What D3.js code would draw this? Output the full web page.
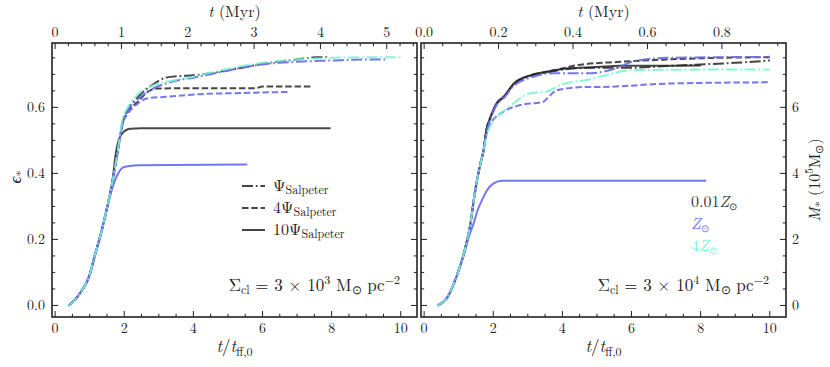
<!DOCTYPE html>
<html><head><meta charset="utf-8">
<script src="https://cdn.jsdelivr.net/npm/d3@7"></script>
<style>
body{margin:0;background:#fff;}
</style></head>
<body><svg id="c" width="830" height="367"></svg>
<script>
// ---------------- DATA ----------------
// x in t/t_ff,0 ; y in epsilon_*
const L_ddK_x=[0.4,0.7,1.0,1.15,1.35,1.5,1.65,1.8,1.95,2.1,2.4,2.8,3.2,3.6,4.0,4.7,5.4,6.0,7.0,7.6,7.95];
const L_ddK_y=[0,0.034,0.093,0.152,0.228,0.295,0.37,0.46,0.55,0.59,0.632,0.667,0.69,0.695,0.697,0.707,0.72,0.732,0.745,0.752,0.752];
const L_ddB_x=[0.4,0.7,1.0,1.15,1.35,1.5,1.65,1.8,1.95,2.1,2.4,2.8,3.2,3.6,4.0,4.7,5.4,6.0,7.0,8.0,9.0,9.6];
const L_ddB_y=[0,0.034,0.093,0.152,0.228,0.295,0.37,0.46,0.555,0.59,0.625,0.655,0.672,0.683,0.69,0.705,0.72,0.73,0.738,0.742,0.745,0.745];
const L_ddC_x=[0.4,0.7,1.0,1.15,1.35,1.5,1.65,1.8,1.95,2.1,2.4,2.8,3.2,3.6,4.0,4.7,5.4,6.0,7.0,8.0,9.0,10.0];
const L_ddC_y=[0,0.034,0.093,0.152,0.228,0.295,0.37,0.46,0.565,0.6,0.64,0.665,0.677,0.685,0.693,0.71,0.725,0.735,0.745,0.75,0.752,0.752];
const L_dsK_x=[0.4,0.7,1.0,1.15,1.35,1.5,1.65,1.8,1.95,2.1,2.4,2.65,2.95,4.0,5.8,6.0,7.42];
const L_dsK_y=[0,0.034,0.093,0.152,0.228,0.295,0.37,0.46,0.553,0.585,0.618,0.645,0.657,0.658,0.658,0.663,0.663];
const L_dsB_x=[0.4,0.7,1.0,1.15,1.35,1.5,1.65,1.8,1.95,2.1,2.4,2.65,3.2,4.2,5.6,6.79];
const L_dsB_y=[0,0.034,0.093,0.152,0.228,0.295,0.37,0.46,0.55,0.58,0.612,0.627,0.632,0.64,0.644,0.647];
const L_soK_x=[0.4,0.7,1.0,1.15,1.35,1.5,1.65,1.77,1.93,2.17,2.5,7.97];
const L_soK_y=[0,0.034,0.093,0.152,0.228,0.295,0.37,0.47,0.52,0.535,0.537,0.537];
const L_soB_x=[0.4,0.7,1.0,1.15,1.3,1.45,1.64,1.8,1.9,2.02,2.4,5.56];
const L_soB_y=[0,0.034,0.093,0.15,0.205,0.27,0.35,0.395,0.412,0.42,0.425,0.427];

const R_soB_x=[0.4,0.71,0.95,1.15,1.3,1.43,1.55,1.72,1.82,2.01,2.25,8.16];
const R_soB_y=[0,0.031,0.09,0.152,0.21,0.248,0.289,0.329,0.349,0.37,0.378,0.378];
const R_soK_x=[0.4,0.71,0.95,1.15,1.34,1.48,1.63,1.72,1.8,1.92,2.11,2.3,2.59,3.07,3.55,4.13,5.0,5.68,6.5,8.0];
const R_soK_y=[0,0.031,0.092,0.158,0.248,0.349,0.43,0.47,0.53,0.571,0.615,0.632,0.672,0.697,0.708,0.718,0.722,0.726,0.726,0.727];
const R_ddK_x=[0.4,0.71,0.95,1.15,1.34,1.48,1.63,1.72,1.8,1.92,2.11,2.3,2.59,3.07,3.55,4.13,5.0,6.0,7.0,8.0,9.0,10.0];
const R_ddK_y=[0,0.031,0.092,0.158,0.248,0.349,0.43,0.47,0.53,0.568,0.612,0.63,0.67,0.695,0.706,0.716,0.72,0.72,0.725,0.73,0.735,0.742];
const R_dsK_x=[0.4,0.71,0.95,1.15,1.34,1.48,1.63,1.72,1.8,1.92,2.11,2.3,2.59,3.07,3.55,4.0,4.42,5.68,7.0,8.5,10.0];
const R_dsK_y=[0,0.031,0.092,0.158,0.248,0.349,0.43,0.47,0.53,0.568,0.612,0.63,0.67,0.697,0.708,0.718,0.728,0.738,0.745,0.75,0.752];
const R_ddB_x=[0.4,0.71,0.95,1.15,1.34,1.48,1.63,1.72,1.8,1.92,2.11,2.3,2.59,3.07,3.75,4.71,5.39,6.1,7.0,10.0];
const R_ddB_y=[0,0.031,0.092,0.158,0.248,0.349,0.43,0.47,0.52,0.565,0.61,0.628,0.665,0.69,0.703,0.703,0.713,0.74,0.75,0.753];
const R_ddC_x=[0.4,0.71,0.95,1.15,1.34,1.48,1.63,1.72,1.8,1.92,2.11,2.5,3.07,3.55,3.94,4.71,5.28,6.05,10.0];
const R_ddC_y=[0,0.031,0.092,0.158,0.248,0.349,0.43,0.47,0.51,0.545,0.571,0.605,0.643,0.648,0.668,0.683,0.698,0.713,0.715];
const R_dsB_x=[0.4,0.71,0.95,1.15,1.34,1.48,1.63,1.72,1.8,1.92,2.3,2.78,3.45,3.65,3.84,4.71,5.1,7.02,10.0];
const R_dsB_y=[0,0.031,0.092,0.158,0.248,0.349,0.43,0.47,0.515,0.55,0.587,0.607,0.617,0.637,0.652,0.662,0.662,0.672,0.676];

const xTicks=[0,2,4,6,8,10];
const yTicksL=[0.0,0.2,0.4,0.6];
const yTicksR=[0,2,4,6];
const topTicksL=[0,1,2,3,4,5];
const topTicksR=[0.0,0.2,0.4,0.6,0.8];
const legendL=["","4","10"];
const legendR=["0.01","","4"];

// ---------------- STYLE ----------------
const FONT="'Latin Modern Roman','Liberation Serif',serif";
const COL={k:"#262626",b:"#6e6ef0",c:"#74f3cf"};
const OP={k:0.85,b:0.95,c:0.85};
const DASH={so:null,ds:"6.5,2.8",dd:"11,2.8,1.8,2.8"};
const LW=2;

const svg=d3.select("#c");
const panels=[
 {x0:52,x1:417,myr:1.919},
 {x0:421,x1:786,myr:10.77}
];
const yT=43,yB=317;
const y=d3.scaleLinear().domain([-0.035,0.795]).range([yB,yT]);
const yM=d3.scaleLinear().domain([-0.35,7.95]).range([yB,yT]);
function T(g){return g.append("text").attr("font-family",FONT).attr("fill","#222");}

function drawAxes(p,i){
  const x=d3.scaleLinear().domain([-0.09,10.47]).range([p.x0,p.x1]);
  const xt=d3.scaleLinear().domain([-0.09/p.myr,10.47/p.myr]).range([p.x0,p.x1]);
  p.x=x;
  const g=svg.append("g");
  const maj=6,mnr=3.2;
  d3.range(0,10.5,0.5).forEach(v=>{const m=Number.isInteger(v/2);
    g.append("line").attr("x1",x(v)).attr("x2",x(v)).attr("y1",yB).attr("y2",yB-(m?maj:mnr)).attr("stroke","#222").attr("stroke-width",1);});
  const tmaj=i==0?topTicksL:topTicksR;
  const tstep=i==0?0.2:0.05;
  const tmax=xt.domain()[1];
  d3.range(0,tmax+1e-9,tstep).forEach(v=>{
    const m=tmaj.some(t=>Math.abs(t-v)<1e-6);
    g.append("line").attr("x1",xt(v)).attr("x2",xt(v)).attr("y1",yT).attr("y2",yT+(m?maj:mnr)).attr("stroke","#222").attr("stroke-width",1);
  });
  tmaj.forEach(v=>T(g).attr("x",xt(v)).attr("y",37).attr("text-anchor","middle").attr("font-size",14).text(i==0?d3.format("d")(v):d3.format(".1f")(v)));
  d3.range(0,0.8,0.05).forEach(v=>{
    const m=Math.abs(v*5-Math.round(v*5))<1e-6;
    [[p.x0,1],[p.x1,-1]].forEach(([sx,d])=>g.append("line").attr("x1",sx).attr("x2",sx+d*(m?maj:mnr)).attr("y1",y(v)).attr("y2",y(v)).attr("stroke","#222").attr("stroke-width",1));
  });
  xTicks.forEach(v=>T(g).attr("x",x(v)).attr("y",333).attr("text-anchor","middle").attr("font-size",14).text(v));
  if(i==0){
    yTicksL.forEach(v=>T(g).attr("x",45).attr("y",y(v)+5).attr("text-anchor","end").attr("font-size",14).text(d3.format(".1f")(v)));
  } else {
    yTicksR.forEach(v=>T(g).attr("x",792).attr("y",yM(v)+5).attr("text-anchor","start").attr("font-size",14).text(v));
  }
  g.append("rect").attr("x",p.x0).attr("y",yT).attr("width",p.x1-p.x0).attr("height",yB-yT).attr("fill","none").attr("stroke","#222").attr("stroke-width",1.6);
  const tb=T(g).attr("x",(p.x0+p.x1)/2).attr("y",352).attr("text-anchor","middle").attr("font-size",17);
  tb.append("tspan").attr("font-style","italic").text("t");
  tb.append("tspan").text("/");
  tb.append("tspan").attr("font-style","italic").text("t");
  tb.append("tspan").attr("font-size",12).attr("dy",4).text("ff,0");
  const tt=T(g).attr("x",(p.x0+p.x1)/2).attr("y",17).attr("text-anchor","middle").attr("font-size",16);
  tt.append("tspan").attr("font-style","italic").text("t");
  tt.append("tspan").text(" (Myr)");
}
panels.forEach(drawAxes);

function line(p,xs,ys,c,st){
  const pts=xs.map((v,k)=>[v,ys[k]]);
  svg.append("path").attr("d",d3.line().x(d=>p.x(d[0])).y(d=>y(d[1])).curve(d3.curveMonotoneX)(pts))
   .attr("fill","none").attr("stroke",COL[c]).attr("stroke-opacity",OP[c]).attr("stroke-width",LW)
   .attr("stroke-dasharray",DASH[st]).attr("stroke-linejoin","round");
}
const P0=panels[0],P1=panels[1];
line(P0,L_soK_x,L_soK_y,"k","so");
line(P0,L_dsK_x,L_dsK_y,"k","ds");
line(P0,L_ddK_x,L_ddK_y,"k","dd");
line(P0,L_soB_x,L_soB_y,"b","so");
line(P0,L_dsB_x,L_dsB_y,"b","ds");
line(P0,L_ddB_x,L_ddB_y,"b","dd");
line(P0,L_ddC_x,L_ddC_y,"c","dd");

line(P1,R_soK_x,R_soK_y,"k","so");
line(P1,R_dsK_x,R_dsK_y,"k","ds");
line(P1,R_ddK_x,R_ddK_y,"k","dd");
line(P1,R_soB_x,R_soB_y,"b","so");
line(P1,R_dsB_x,R_dsB_y,"b","ds");
line(P1,R_ddB_x,R_ddB_y,"b","dd");
line(P1,R_ddC_x,R_ddC_y,"c","dd");

const lst=["dd","ds","so"];
legendL.forEach((pre,k)=>{
  const yy=186+k*22;
  svg.append("line").attr("x1",242).attr("x2",265).attr("y1",yy).attr("y2",yy).attr("stroke","#444").attr("stroke-width",LW).attr("stroke-dasharray",DASH[lst[k]]);
  const t=T(svg).attr("x",273).attr("y",yy+5).attr("font-size",16);
  t.append("tspan").text(pre+"Ψ");
  t.append("tspan").attr("font-size",12).attr("dy",3).text("Salpeter");
});
const rc=["k","b","c"];
legendR.forEach((pre,k)=>{
  const t=T(svg).attr("x",691).attr("y",207+k*22).attr("font-size",16).attr("fill",k==0?"#333":COL[rc[k]]);
  if(pre) t.append("tspan").text(pre);
  t.append("tspan").attr("font-style","italic").text("Z");
  t.append("tspan").attr("font-size",10).attr("dy",2.5).text("⊙");
});
[[P0,"3"],[P1,"4"]].forEach(([p,e])=>{
  const t=T(svg).attr("x",p.x1-17).attr("y",291).attr("text-anchor","end").attr("font-size",17);
  t.append("tspan").text("Σ");
  t.append("tspan").attr("font-size",12).attr("dy",3).text("cl");
  t.append("tspan").attr("dy",-3).text(" = 3 × 10");
  t.append("tspan").attr("font-size",12).attr("dy",-7).text(e);
  t.append("tspan").attr("dy",7).text(" M");
  t.append("tspan").attr("font-size",12).attr("dy",3).text("⊙");
  t.append("tspan").attr("dy",-3).text(" pc");
  t.append("tspan").attr("font-size",12).attr("dy",-7).text("−2");
});
const ly=T(svg).attr("transform","translate(21,177) rotate(-90)").attr("text-anchor","middle").attr("font-size",17);
ly.append("tspan").attr("font-style","italic").text("ϵ");
ly.append("tspan").attr("font-size",12).attr("dy",4).text("*");
const ry=T(svg).attr("transform","translate(820,180) rotate(-90)").attr("text-anchor","middle").attr("font-size",16);
ry.append("tspan").attr("font-style","italic").text("M");
ry.append("tspan").attr("font-size",12).attr("dy",4).text("*");
ry.append("tspan").attr("dy",-4).text(" (10");
ry.append("tspan").attr("font-size",11).attr("dy",-7).text("5");
ry.append("tspan").attr("dy",7).text("M");
ry.append("tspan").attr("font-size",11).attr("dy",3).text("⊙");
ry.append("tspan").attr("dy",-3).text(")");
</script></body></html>
